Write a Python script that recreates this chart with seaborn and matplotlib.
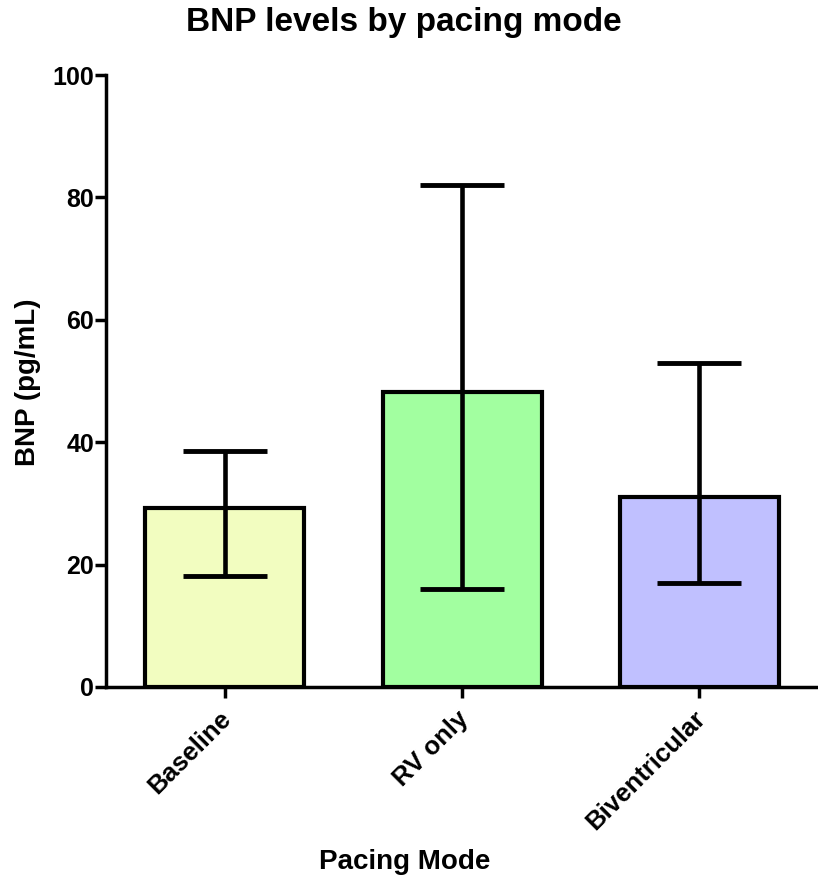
import matplotlib
matplotlib.use("Agg")
import matplotlib.pyplot as plt
import matplotlib.transforms as mtransforms
import seaborn as sns
import pandas as pd
import numpy as np

categories = ["Baseline", "RV only", "Biventricular"]
means = [29.3, 48.2, 31.0]
err_upper = [38.6, 82.0, 53.0]
err_lower = [18.1, 16.0, 17.0]
colors = ["#F2FDC0", "#A2FFA0", "#C0C0FF"]
yticks = [0, 20, 40, 60, 80, 100]

sns.set_style("white")
plt.rcParams['font.family'] = ['Liberation Sans', 'DejaVu Sans']
plt.rcParams['text.color'] = 'black'
plt.rcParams['axes.labelcolor'] = 'black'
plt.rcParams['xtick.color'] = 'black'
plt.rcParams['ytick.color'] = 'black'

df = pd.DataFrame({"mode": categories, "bnp": means})

fig = plt.figure(figsize=(8.18, 8.83), dpi=100)
ax = fig.add_axes([0.1296, 0.222, 0.8704, 0.693])

sns.barplot(data=df, x="mode", y="bnp", hue="mode", palette=colors,
            order=categories, hue_order=categories, legend=False, saturation=1,
            width=0.67, edgecolor="black", linewidth=3, errorbar=None, ax=ax)

x = np.arange(len(categories))
yerr = np.array([np.array(means) - np.array(err_lower),
                 np.array(err_upper) - np.array(means)])
ax.errorbar(x, means, yerr=yerr, fmt="none", ecolor="black",
            elinewidth=3.3, capsize=30, capthick=3.5, zorder=5)

ax.set_xlim(-0.5, 2.5)
ax.set_ylim(0, 100)
ax.set_yticks(yticks)
ax.set_yticklabels([str(t) for t in yticks], fontsize=18, fontweight="bold")
ax.set_xticks(x)
ax.set_xticklabels(categories, fontsize=18.5, fontweight="bold", rotation=45,
                   ha="right", va="top", rotation_mode="anchor")
ax.tick_params(axis="both", direction="out", length=8, width=2.5, color="black",
               bottom=True, left=True)
ax.tick_params(axis="y", pad=0.5)
ax.tick_params(axis="x", pad=6)
offset = mtransforms.ScaledTranslation(-6 / 100, 0, fig.dpi_scale_trans)
for lab in ax.get_xticklabels():
    lab.set_transform(lab.get_transform() + offset)

for s in ["top", "right"]:
    ax.spines[s].set_visible(False)
for s in ["left", "bottom"]:
    ax.spines[s].set_linewidth(2.5)
    ax.spines[s].set_color("black")

ax.set_xlabel("Pacing Mode", fontsize=20, fontweight="bold", va="center", ha="center")
ax.xaxis.set_label_coords(0.419, -0.286)
ax.set_ylabel("BNP (pg/mL)", fontsize=20, fontweight="bold", va="center", ha="center")
ax.yaxis.set_label_coords(-0.1096, 0.498)
fig.text(404 / 818, 1 - 22 / 883, "BNP levels by pacing mode", fontsize=24,
         fontweight="bold", ha="center", va="center")

fig.savefig("out.png", dpi=100)
